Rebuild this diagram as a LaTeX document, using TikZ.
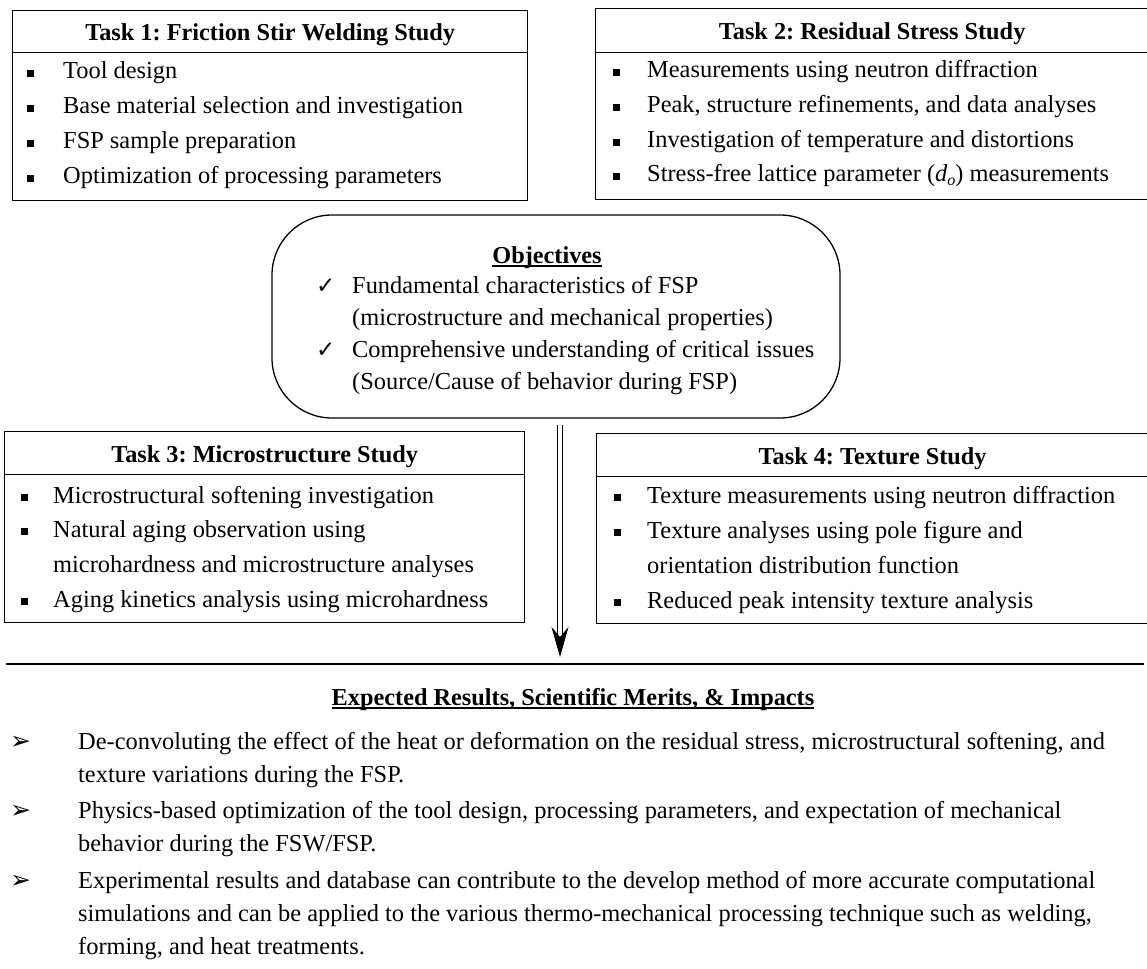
\documentclass[tikz,border=0pt]{standalone}
\usepackage{fontspec}
\setmainfont{Liberation Serif}
\newfontfamily\djv{DejaVu Sans}
\usetikzlibrary{arrows.meta}
\frenchspacing
\newcommand\sqbul[1]{\makebox[#1][l]{\rule[2pt]{7pt}{7pt}}}
\newcommand\ulbox[1]{\setbox0\hbox{#1}\rlap{\rule[-3.5pt]{\wd0}{1.4pt}}\box0}
\newcommand\chk{\makebox[36pt][l]{\djv\fontsize{23}{23}\selectfont ✓}}
\newcommand\arr{{\djv\fontsize{25}{25}\selectfont ➢}}
\begin{document}
\begin{tikzpicture}[x=1pt,y=-1pt,
  boxa/.style={draw, line width=1.3pt, rectangle, inner sep=0pt, anchor=north west},
  hdr/.style={boxa, font=\fontsize{24.3}{28}\selectfont\bfseries, text height=21pt, text depth=3pt},
  row/.style={anchor=base west, inner sep=0pt, font=\fontsize{24.4}{28}\selectfont},
  ctr/.style={anchor=base, inner sep=0pt, font=\fontsize{24.3}{28}\selectfont\bfseries},
  dbl/.style={double, double distance=3.4pt, line width=1pt, -{Stealth[length=30pt,width=17pt,inset=10pt]}}
]
\useasboundingbox (0,0) rectangle (1147,968);
\fill[white] (0,0) rectangle (1147,968);

% Task 1
\node[hdr, minimum width=515, minimum height=42] (t1h) at (12,10) {Task 1: Friction Stir Welding Study};
\node[boxa, minimum width=515, minimum height=148] (t1b) at (12,52) {};
\node[row] (t1r1) at (26.5,79) {\sqbul{36.5pt}Tool design};
\node[row] (t1r2) at (26.5,114) {\sqbul{36.5pt}Base material selection and investigation};
\node[row] (t1r3) at (26.5,149) {\sqbul{36.5pt}FSP sample preparation};
\node[row] (t1r4) at (26.5,184) {\sqbul{36.5pt}Optimization of processing parameters};

% Task 2
\node[hdr, minimum width=553, minimum height=44] (t2h) at (595,8) {Task 2: Residual Stress Study};
\node[boxa, minimum width=553, minimum height=147] (t2b) at (595,52) {};
\node[row] (t2r1) at (612.5,78) {\sqbul{34.5pt}Measurements using neutron diffraction};
\node[row] (t2r2) at (612.5,113) {\sqbul{34.5pt}Peak, structure refinements, and data analyses};
\node[row] (t2r3) at (612.5,148) {\sqbul{34.5pt}Investigation of temperature and distortions};
\node[row] (t2r4) at (612.5,182) {\sqbul{34.5pt}Stress-free lattice parameter (\textit{d}\raisebox{-4pt}{\fontsize{16}{16}\selectfont\textit{o}}) measurements};

% Objectives
\node[draw, line width=1.3pt, rounded corners=60pt, minimum width=568, minimum height=203, inner sep=0pt] (obj) at (556,316.5) {};
\node[ctr] (objt) at (547,263) {\ulbox{Objectives}};
\node[row] (o1) at (316,293.5) {\chk Fundamental characteristics of FSP};
\node[row] (o2) at (352,325.5) {(microstructure and mechanical properties)};
\node[row] (o3) at (316,357.5) {\chk Comprehensive understanding of critical issues};
\node[row] (o4) at (352,389) {(Source/Cause of behavior during FSP)};

% Task 3
\node[hdr, minimum width=520, minimum height=43] (t3h) at (4,431) {Task 3: Microstructure Study};
\node[boxa, minimum width=520, minimum height=148] (t3b) at (4,474) {};
\node[row] (t3r1) at (20.5,503) {\sqbul{32.5pt}Microstructural softening investigation};
\node[row] (t3r2) at (20.5,537) {\sqbul{32.5pt}Natural aging observation using};
\node[row] (t3r3) at (53,572) {microhardness and microstructure analyses};
\node[row] (t3r4) at (20.5,607) {\sqbul{32.5pt}Aging kinetics analysis using microhardness};

% Task 4
\node[hdr, minimum width=552, minimum height=43] (t4h) at (596,433) {Task 4: Texture Study};
\node[boxa, minimum width=552, minimum height=147] (t4b) at (596,476) {};
\node[row] (t4r1) at (613.5,503) {\sqbul{33.5pt}Texture measurements using neutron diffraction};
\node[row] (t4r2) at (613.5,538) {\sqbul{33.5pt}Texture analyses using pole figure and};
\node[row] (t4r3) at (647,573) {orientation distribution function};
\node[row] (t4r4) at (613.5,608) {\sqbul{33.5pt}Reduced peak intensity texture analysis};

% arrow
\coordinate (arrS) at (560,425);
\coordinate (arrE) at (560,657);
\draw[dbl] (arrS) -- (arrE);

% rule
\coordinate (ruleL) at (6,664);
\coordinate (ruleR) at (1144,664);
\draw[line width=2.4pt] (ruleL) -- (ruleR);

% Expected results
\node[ctr] (exph) at (573,705) {\ulbox{Expected Results, Scientific Merits, \& Impacts}};
\node[row] (eb1) at (10,749) {\arr};
\node[row] (e1a) at (78,749) {De-convoluting the effect of the heat or deformation on the residual stress, microstructural softening, and};
\node[row] (e1b) at (78,782) {texture variations during the FSP.};
\node[row] (eb2) at (10,818) {\arr};
\node[row] (e2a) at (78,818) {Physics-based optimization of the tool design, processing parameters, and expectation of mechanical};
\node[row] (e2b) at (78,851) {behavior during the FSW/FSP.};
\node[row] (eb3) at (10,888) {\arr};
\node[row] (e3a) at (78,888) {Experimental results and database can contribute to the develop method of more accurate computational};
\node[row] (e3b) at (78,921) {simulations and can be applied to the various thermo-mechanical processing technique such as welding,};
\node[row] (e3c) at (78,954) {forming, and heat treatments.};
\end{tikzpicture}
\end{document}
